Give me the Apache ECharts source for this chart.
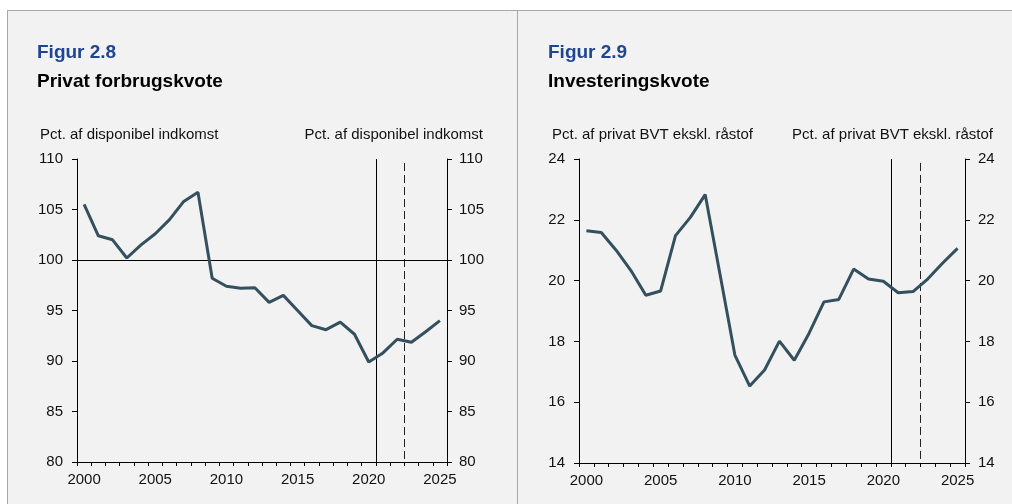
<!DOCTYPE html>
<html>
<head>
<meta charset="utf-8">
<script src="https://cdn.jsdelivr.net/npm/echarts@6/dist/echarts.min.js"></script>
<style>
  html, body { margin: 0; padding: 0; background: #ffffff; }
  #chart { width: 1012px; height: 504px; }
</style>
</head>
<body>
<div id="chart"></div>
<script>
const years = ['2000','2001','2002','2003','2004','2005','2006','2007','2008','2009','2010','2011','2012','2013','2014','2015','2016','2017','2018','2019','2020','2021','2022','2023','2024','2025'];
const forbrugskvote = [105.5,102.4,102.0,100.2,101.5,102.6,104.0,105.8,106.7,98.2,97.4,97.2,97.25,95.8,96.5,95.0,93.5,93.1,93.85,92.65,89.9,90.8,92.15,91.85,92.9,94.0];
const investeringskvote = [21.64,21.58,21.0,20.33,19.52,19.66,21.48,22.08,22.83,20.2,17.55,16.53,17.06,18.01,17.38,18.27,19.3,19.38,20.38,20.05,19.98,19.6,19.64,20.06,20.58,21.06];
const leftTicks = { min: 80, max: 110, interval: 5 };
const rightTicks = { min: 14, max: 24, interval: 2 };
const refLine = 100;
const solidBoundary = 21;   // boundary between 2020 and 2021 (band index)
const dashedBoundary = 23;  // boundary between 2022 and 2023 (band index)
const dashedTopLeft = 109.6;
const dashedTopRight = 23.87;

const FONT = "'Liberation Sans', Arial, Helvetica, sans-serif";
const LINE_COLOR = '#34505f';

const chart = echarts.init(document.getElementById('chart'), null, { renderer: 'canvas' });

function catAxis(gridIndex) {
  return {
    type: 'category', gridIndex: gridIndex, data: years, boundaryGap: true,
    axisLine: { show: true, onZero: false, lineStyle: { color: '#000', width: 1 } },
    axisTick: { show: true, inside: false, length: 4, interval: 0, alignWithLabel: false, lineStyle: { color: '#000' } },
    axisLabel: { show: true, interval: function (i) { return i % 5 === 0; }, margin: 10, color: '#111', fontSize: 15, fontFamily: FONT },
    splitLine: { show: false }
  };
}
function hiddenValX(gridIndex) {
  return { type: 'value', gridIndex: gridIndex, min: 0, max: years.length, show: false, splitLine: { show: false } };
}
function valAxis(gridIndex, t, position, margin) {
  return {
    type: 'value', gridIndex: gridIndex, position: position, min: t.min, max: t.max, interval: t.interval,
    axisLine: { show: true, onZero: false, lineStyle: { color: '#000', width: 1 } },
    axisTick: { show: true, inside: false, length: 5, lineStyle: { color: '#000' } },
    axisLabel: { show: true, margin: margin, color: '#111', fontSize: 15, fontFamily: FONT },
    splitLine: { show: false }
  };
}
function vLines(xIdx, yIdx, t, dashTop) {
  return {
    type: 'line', xAxisIndex: xIdx, yAxisIndex: yIdx, data: [], silent: true,
    markLine: {
      silent: true, symbol: ['none', 'none'], label: { show: false }, animation: false,
      emphasis: { disabled: true },
      data: [
        { xAxis: solidBoundary, lineStyle: { color: '#000', width: 1, type: 'solid' } },
        [
          { xAxis: dashedBoundary, yAxis: dashTop, lineStyle: { color: '#222', width: 1, type: [8, 4] } },
          { xAxis: dashedBoundary, yAxis: t.min }
        ]
      ]
    }
  };
}

function txt(text, left, right, top, size, weight, color) {
  const o = {
    padding: 0, text: text, top: top,
    textStyle: { fontSize: size, fontWeight: weight, color: color, fontFamily: FONT, lineHeight: size }
  };
  if (left !== null) o.left = left;
  if (right !== null) o.right = right;
  return o;
}

const option = {
  backgroundColor: '#f2f2f2',
  animation: false,
  graphic: [
    { type: 'rect', shape: { x: 0, y: 0, width: 1012, height: 10 }, style: { fill: '#ffffff' }, silent: true },
    { type: 'rect', shape: { x: 0, y: 0, width: 7, height: 504 }, style: { fill: '#ffffff' }, silent: true },
    { type: 'line', shape: { x1: 7, y1: 10.5, x2: 1012, y2: 10.5 }, style: { stroke: '#a8a8a8', lineWidth: 1 }, silent: true },
    { type: 'line', shape: { x1: 7.5, y1: 10, x2: 7.5, y2: 504 }, style: { stroke: '#a8a8a8', lineWidth: 1 }, silent: true },
    { type: 'line', shape: { x1: 517.5, y1: 10, x2: 517.5, y2: 504 }, style: { stroke: '#a8a8a8', lineWidth: 1 }, silent: true }
  ],
  title: [
    txt('Figur 2.8', 37, null, 43, 19, 'bold', '#1f4591'),
    txt('Privat forbrugskvote', 37, null, 72, 19, 'bold', '#000'),
    txt('Pct. af disponibel indkomst', 40, null, 127, 15, 'normal', '#111'),
    txt('Pct. af disponibel indkomst', null, 529, 127, 15, 'normal', '#111'),
    txt('Figur 2.9', 548, null, 43, 19, 'bold', '#1f4591'),
    txt('Investeringskvote', 548, null, 72, 19, 'bold', '#000'),
    txt('Pct. af privat BVT ekskl. råstof', 552, null, 127, 15, 'normal', '#111'),
    txt('Pct. af privat BVT ekskl. råstof', null, 19, 127, 15, 'normal', '#111')
  ],
  grid: [
    { left: 77, right: 565, top: 159, bottom: 42, containLabel: false },
    { left: 579, right: 47, top: 159, bottom: 41, containLabel: false }
  ],
  xAxis: [catAxis(0), hiddenValX(0), catAxis(1), hiddenValX(1)],
  yAxis: [
    valAxis(0, leftTicks, 'left', 14), valAxis(0, leftTicks, 'right', 12),
    valAxis(1, rightTicks, 'left', 14), valAxis(1, rightTicks, 'right', 13)
  ],
  series: [
    vLines(1, 0, leftTicks, dashedTopLeft),
    {
      type: 'line', xAxisIndex: 0, yAxisIndex: 0, data: [], silent: true,
      markLine: {
        silent: true, symbol: ['none', 'none'], label: { show: false }, animation: false,
        emphasis: { disabled: true },
        data: [{ yAxis: refLine, lineStyle: { color: '#000', width: 1, type: 'solid' } }]
      }
    },
    {
      type: 'line', xAxisIndex: 0, yAxisIndex: 0, data: forbrugskvote,
      symbol: 'none', lineStyle: { color: LINE_COLOR, width: 3 }, itemStyle: { color: LINE_COLOR }, z: 5
    },
    vLines(3, 2, rightTicks, dashedTopRight),
    {
      type: 'line', xAxisIndex: 2, yAxisIndex: 2, data: investeringskvote,
      symbol: 'none', lineStyle: { color: LINE_COLOR, width: 3 }, itemStyle: { color: LINE_COLOR }, z: 5
    }
  ]
};
chart.setOption(option);
</script>
</body>
</html>
